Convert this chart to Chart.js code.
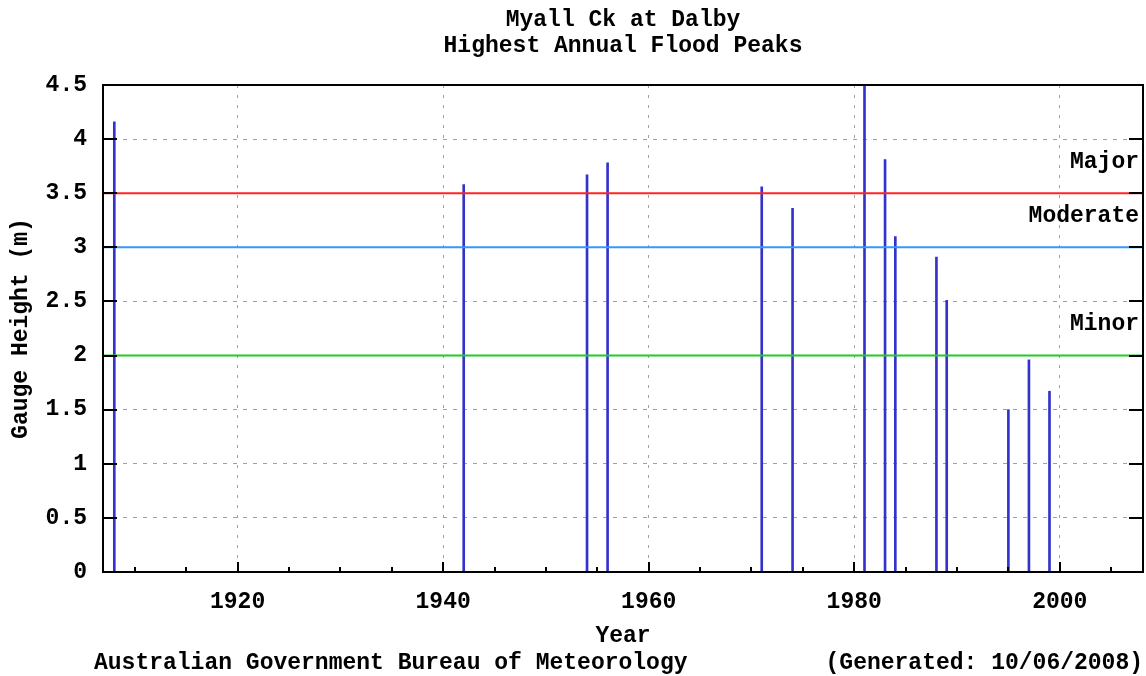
<!DOCTYPE html>
<html>
<head>
<meta charset="utf-8">
<title>Myall Ck at Dalby - Highest Annual Flood Peaks</title>
<script src="https://cdn.jsdelivr.net/npm/chart.js@4.4.1/dist/chart.umd.min.js"></script>
<style>
    html, body { margin: 0; padding: 0; background: #fff; }
</style>
</head>
<body>
<canvas id="floodChart" width="1146" height="676"></canvas>
<script>
// peak gauge heights (m)
const years = [1908, 1942, 1954, 1956, 1971, 1974, 1981, 1983, 1984, 1988, 1989, 1995, 1997, 1999];
const peaks = [4.16, 3.58, 3.67, 3.78, 3.56, 3.36, 4.5, 3.81, 3.10, 2.91, 2.51, 1.50, 1.96, 1.67];

// flood classification levels
const levelNames = ['Major', 'Moderate', 'Minor'];
const levelHeights = [3.5, 3.0, 2.0];
const levelColors = ['#ff2424', '#3399ff', '#22cc22'];

const yearTicks = [1920, 1940, 1960, 1980, 2000];
const yearRange = [1906.9, 2008.1];

const titleLines = ['Myall Ck at Dalby', 'Highest Annual Flood Peaks'];

const FAMILY = '"Liberation Mono", "DejaVu Sans Mono", monospace';
const FONT = { family: FAMILY, size: 23, weight: 'bold', lineHeight: 1 };

document.addEventListener('DOMContentLoaded', () => {
    // title, frame, inward tick marks, level names and footer
    const decorations = {
        id: 'decorations',
        afterDraw(chart) {
            const { ctx, chartArea: a, scales: { x, y } } = chart;
            ctx.save();
            ctx.strokeStyle = '#000';
            ctx.lineWidth = 2;
            ctx.beginPath();
            for (let v = 0; v <= 4.5; v += 0.5) {
                const py = Math.round(y.getPixelForValue(v));
                ctx.moveTo(a.left, py);
                ctx.lineTo(a.left + 14, py);
                ctx.moveTo(a.right, py);
                ctx.lineTo(a.right - 14, py);
            }
            for (let yr = 1910; yr <= 2005; yr += 5) {
                const px = Math.round(x.getPixelForValue(yr));
                const len = yr % 20 === 0 ? 10 : 5;
                ctx.moveTo(px, a.bottom);
                ctx.lineTo(px, a.bottom - len);
            }
            ctx.stroke();
            ctx.strokeRect(a.left, a.top, a.right - a.left, a.bottom - a.top);

            ctx.fillStyle = '#000';
            ctx.font = `bold 23px ${FAMILY}`;
            ctx.textBaseline = 'middle';

            ctx.textAlign = 'center';
            const mid = (a.left + a.right) / 2;
            titleLines.forEach((line, i) => ctx.fillText(line, mid, 20 + i * 26));

            ctx.textAlign = 'right';
            levelNames.forEach((name, i) => {
                ctx.fillText(name, a.right - 4, y.getPixelForValue(levelHeights[i]) - 31);
            });
            ctx.textAlign = 'left';
            ctx.fillText('Australian Government Bureau of Meteorology', 94, 663);
            ctx.textAlign = 'right';
            ctx.fillText('(Generated: 10/06/2008)', 1143, 663);
            ctx.restore();
        }
    };

    const levelSets = levelNames.map((name, i) => ({
        type: 'line',
        label: name,
        data: yearRange.map(yr => ({ x: yr, y: levelHeights[i] })),
        borderColor: levelColors[i],
        borderWidth: 2,
        pointRadius: 0,
        fill: false
    }));

    const grid = {
        color: '#a0a0a0',
        lineWidth: 1,
        offset: false,
        drawTicks: false,
        tickLength: 0
    };

    new Chart(document.getElementById('floodChart').getContext('2d'), {
        type: 'bar',
        data: {
            datasets: [
                ...levelSets,
                {
                    type: 'bar',
                    label: 'Peak',
                    data: years.map((yr, i) => ({ x: yr, y: peaks[i] })),
                    backgroundColor: '#3333cc',
                    barThickness: 2,
                    grouped: false
                }
            ]
        },
        options: {
            responsive: false,
            animation: false,
            devicePixelRatio: 1,
            layout: { padding: { left: 8, right: 3, top: 85, bottom: 28 } },
            plugins: {
                legend: { display: false },
                tooltip: { enabled: false },
                title: { display: false }
            },
            scales: {
                x: {
                    type: 'linear',
                    min: yearRange[0],
                    max: yearRange[1],
                    offset: false,
                    afterBuildTicks: scale => { scale.ticks = yearTicks.map(v => ({ value: v })); },
                    afterFit: scale => { scale.height = 76; },
                    ticks: {
                        color: '#000',
                        font: FONT,
                        padding: 19,
                        maxRotation: 0,
                        callback: v => String(v)
                    },
                    grid: grid,
                    border: { display: false, dash: [3, 7] },
                    title: {
                        display: true,
                        text: 'Year',
                        color: '#000',
                        font: FONT,
                        padding: { top: 0, bottom: 0 }
                    }
                },
                y: {
                    min: 0,
                    max: 4.5,
                    afterFit: scale => { scale.width = 95; },
                    ticks: {
                        stepSize: 0.5,
                        color: '#000',
                        font: FONT,
                        padding: 16,
                        callback: v => String(Math.round(v * 10) / 10)
                    },
                    grid: grid,
                    border: { display: false, dash: [4, 6] },
                    title: {
                        display: true,
                        text: 'Gauge Height (m)',
                        color: '#000',
                        font: FONT,
                        padding: { top: 2, bottom: 0 }
                    }
                }
            }
        },
        plugins: [decorations]
    });
});
</script>
</body>
</html>
